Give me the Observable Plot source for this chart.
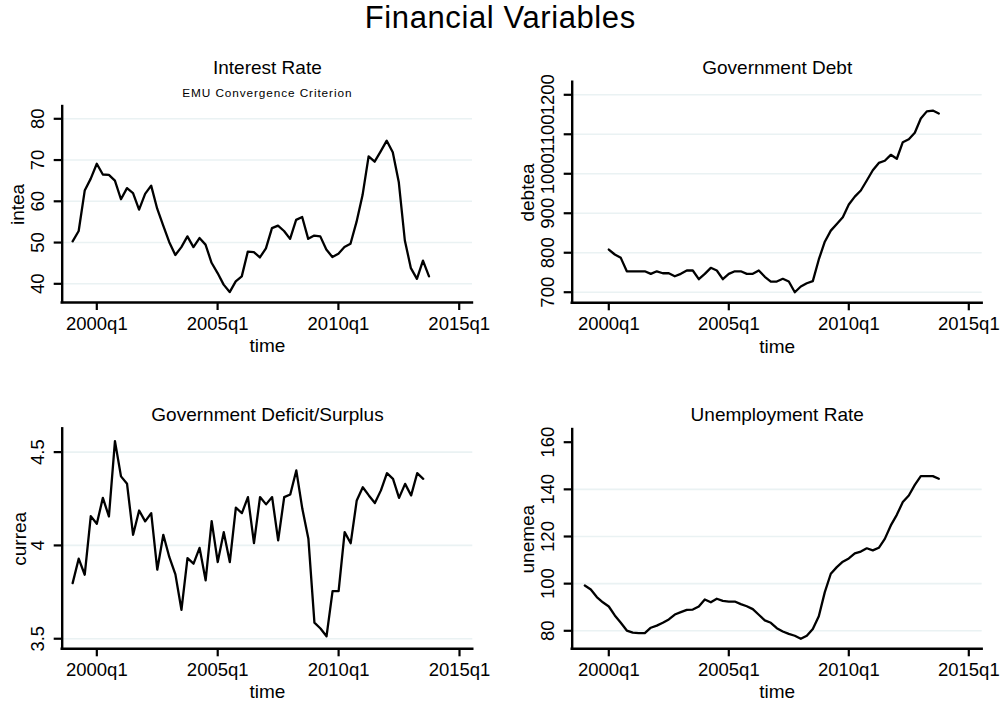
<!DOCTYPE html>
<html>
<head>
<meta charset="utf-8">
<script src="https://cdn.jsdelivr.net/npm/d3@7"></script>
<script src="https://cdn.jsdelivr.net/npm/@observablehq/plot@0.6"></script>
<style>
  body { margin: 0; background: #fff; }
  #wrap { position: relative; width: 1000px; height: 702px; overflow: hidden;
          font-family: "Liberation Sans", Arial, Helvetica, sans-serif; color: #000; }
  #title { position: absolute; left: 0; top: -2px; width: 1000px; text-align: center;
           font-size: 31px; line-height: 40px; letter-spacing: 0.6px; text-indent: 0.6px; }
  .panel { position: absolute; }
</style>
</head>
<body>
<div id="wrap">
  <div id="title">Financial Variables</div>
  <div class="panel" id="p1" style="left:0px;top:40px"></div>
  <div class="panel" id="p2" style="left:500px;top:40px"></div>
  <div class="panel" id="p3" style="left:0px;top:360px"></div>
  <div class="panel" id="p4" style="left:500px;top:360px"></div>
</div>
<script>
// ---- data (quarterly) ----
const xTicks = [2000, 2005, 2010, 2015];

// Interest Rate, 1999q1 - 2013q4
const inteaStart = [1999, 1];
const intea = [50.3, 52.8, 62.6, 65.5, 69.1, 66.5, 66.4, 65.0, 60.5, 63.2,
               62.0, 58.0, 61.8, 63.8, 58.2, 54.1, 50.1, 47.0, 48.9, 51.5,
               48.9, 51.1, 49.5, 45.1, 42.6, 39.8, 38.0, 40.6, 41.8, 47.8,
               47.7, 46.4, 48.6, 53.5, 54.1, 52.8, 50.9, 55.5, 56.2, 50.9,
               51.7, 51.5, 48.3, 46.5, 47.3, 48.9, 49.7, 55.0, 61.5, 70.9,
               69.6, 72.1, 74.7, 71.9, 64.6, 50.5, 43.8, 41.2, 45.6, 41.8];
const inteaTicks = [40, 50, 60, 70, 80];
const inteaGrid = [40, 50, 60, 70, 80];

// Government Debt, 2000q1 - 2013q4
const debteaStart = [2000, 1];
const debtea = [808, 795.5, 787, 753, 753, 753, 753, 746.6, 753, 748,
                748, 740.5, 746.6, 755, 755, 733, 746.6, 761.8, 755, 733,
                746.6, 753, 753, 746.6, 746.6, 755, 739, 727, 727, 734,
                727, 700, 714.4, 722.8, 728, 783, 828, 856, 873, 890,
                922, 942, 957.6, 983, 1009, 1027.5, 1033, 1048, 1038, 1080,
                1087.5, 1104, 1140, 1158, 1160, 1152.5];
const debteaTicks = [700, 800, 900, 1000, 1100, 1200];
const debteaGrid = [700, 800, 900, 1000, 1100, 1200];

// Government Deficit/Surplus, 1999q1 - 2013q3
const curreaStart = [1999, 1];
const currea = [3.798, 3.929, 3.843, 4.157, 4.116, 4.255, 4.155, 4.559, 4.37, 4.33,
                4.057, 4.187, 4.129, 4.173, 3.87, 4.057, 3.937, 3.845, 3.655, 3.932,
                3.902, 3.987, 3.813, 4.13, 3.911, 4.071, 3.911, 4.202, 4.173, 4.259,
                4.012, 4.259, 4.22, 4.259, 4.027, 4.259, 4.273, 4.402, 4.196, 4.036,
                3.586, 3.555, 3.513, 3.755, 3.755, 4.071, 4.012, 4.241, 4.312, 4.268,
                4.227, 4.295, 4.387, 4.357, 4.255, 4.33, 4.268, 4.387, 4.357];
const curreaTicks = [3.5, 4, 4.5];
const curreaGrid = [3.5, 4, 4.5];

// Unemployment Rate, 1999q1 - 2013q4
const unemeaStart = [1999, 1];
const unemea = [99.2, 97.5, 94.3, 92.1, 90.3, 86.5, 83.4, 80.1, 79.2, 79.0,
                79.0, 81.3, 82.2, 83.4, 84.8, 86.9, 87.9, 88.9, 89.0, 90.3,
                93.3, 92.1, 93.6, 92.7, 92.4, 92.4, 91.3, 90.4, 89.2, 86.8,
                84.4, 83.4, 81.1, 79.7, 78.7, 77.9, 76.6, 77.9, 80.8, 86.2,
                96.4, 104.2, 107.0, 109.3, 110.7, 112.8, 113.6, 115.0, 114.1, 115.2,
                119.0, 124.7, 129.2, 134.6, 137.4, 141.9, 145.6, 145.6, 145.6, 144.5];
const unemeaTicks = [80, 100, 120, 140, 160];
const unemeaGrid = [80, 100, 120, 140];

// ---- helpers ----
const FONT = '"Liberation Sans", Arial, Helvetica, sans-serif';
function toRows(start, values) {
  return values.map((v, i) => ({t: start[0] + (start[1] - 1 + i) / 4, v}));
}

function panel(o) {
  return Plot.plot({
    width: o.width, height: o.height,
    marginLeft: o.ml, marginRight: o.mr, marginTop: o.mt, marginBottom: o.mb,
    style: {fontFamily: FONT, fontSize: "18.5px", background: "transparent", overflow: "visible", color: "#000"},
    x: {type: "linear", domain: o.xDomain},
    y: {type: "linear", domain: o.yDomain},
    marks: [
      Plot.ruleY(o.grid, {stroke: "#eaf2f3", strokeWidth: 1.6}),
      Plot.axisX({ticks: xTicks, tickFormat: d => d + "q1", tickSize: 8, tickPadding: 6,
                  fontSize: 18.5, label: null, strokeWidth: 2.2}),
      Plot.axisY({ticks: o.yTicks, tickFormat: d => String(d), tickSize: 8, tickPadding: 10,
                  tickRotate: -90, fontSize: 18.5, label: null, strokeWidth: 2.2}),
      Plot.ruleX([o.xDomain[0]], {stroke: "#000", strokeWidth: 2.4, strokeLinecap: "square"}),
      Plot.ruleY([o.yDomain[0]], {stroke: "#000", strokeWidth: 2.4, strokeLinecap: "square"}),
      Plot.line(o.data, {x: "t", y: "v", stroke: "#000", strokeWidth: 2.3, strokeLinejoin: "round"}),
      Plot.text([o.title], {frameAnchor: "top", dy: -o.titleGap, lineAnchor: "bottom", fontSize: 19}),
      ...(o.subtitle ? [Plot.text([o.subtitle], {frameAnchor: "top", dy: -9.3, lineAnchor: "bottom", fontSize: 11.8})] : []),
      Plot.text(["time"], {frameAnchor: "bottom", dy: o.timeGap, lineAnchor: "bottom", fontSize: 19}),
      Plot.text([o.ylabel], {frameAnchor: "left", dx: -o.ylabGap, rotate: -90, lineAnchor: "bottom", textAnchor: "middle", fontSize: 19})
    ]
  });
}

const xA = [1998.568, 2015.55];   // left column
const xB = [1998.475, 2015.558];  // right column

const p1 = panel({data: toRows(inteaStart, intea), xDomain: xA, yDomain: [35.47, 82.98],
  yTicks: inteaTicks, grid: inteaGrid, width: 500, height: 320, ml: 61.7, mr: 28, mt: 66, mb: 58,
  title: "Interest Rate", titleGap: 32.7, subtitle: "EMU Convergence Criterion", ylabel: "intea", timeGap: 49.7, ylabGap: 38.4});
const p2 = panel({data: toRows(debteaStart, debtea), xDomain: xB, yDomain: [673.2, 1231.9],
  yTicks: debteaTicks, grid: debteaGrid, width: 500, height: 320, ml: 71.7, mr: 18.3, mt: 41.7, mb: 57.7,
  title: "Government Debt", titleGap: 8.4, ylabel: "debtea", timeGap: 49.7, ylabGap: 38.4});
const p3 = panel({data: toRows(curreaStart, currea), xDomain: xA, yDomain: [3.446, 4.625],
  yTicks: curreaTicks, grid: curreaGrid, width: 500, height: 342, ml: 61.7, mr: 27.7, mt: 68.3, mb: 53.7,
  title: "Government Deficit/Surplus", titleGap: 8.3, ylabel: "currea", timeGap: 49.3, ylabGap: 36.7});
const p4 = panel({data: toRows(unemeaStart, unemea), xDomain: xB, yDomain: [72.36, 165.39],
  yTicks: unemeaTicks, grid: unemeaGrid, width: 500, height: 342, ml: 71.7, mr: 18.3, mt: 69, mb: 53.7,
  title: "Unemployment Rate", titleGap: 9, ylabel: "unemea", timeGap: 49.3, ylabGap: 38.4});

document.getElementById("p1").appendChild(p1);
document.getElementById("p2").appendChild(p2);
document.getElementById("p3").appendChild(p3);
document.getElementById("p4").appendChild(p4);

d3.selectAll("svg text").filter(function() { return this.textContent === "EMU Convergence Criterion"; })
  .style("letter-spacing", "0.9px");
</script>
</body>
</html>
